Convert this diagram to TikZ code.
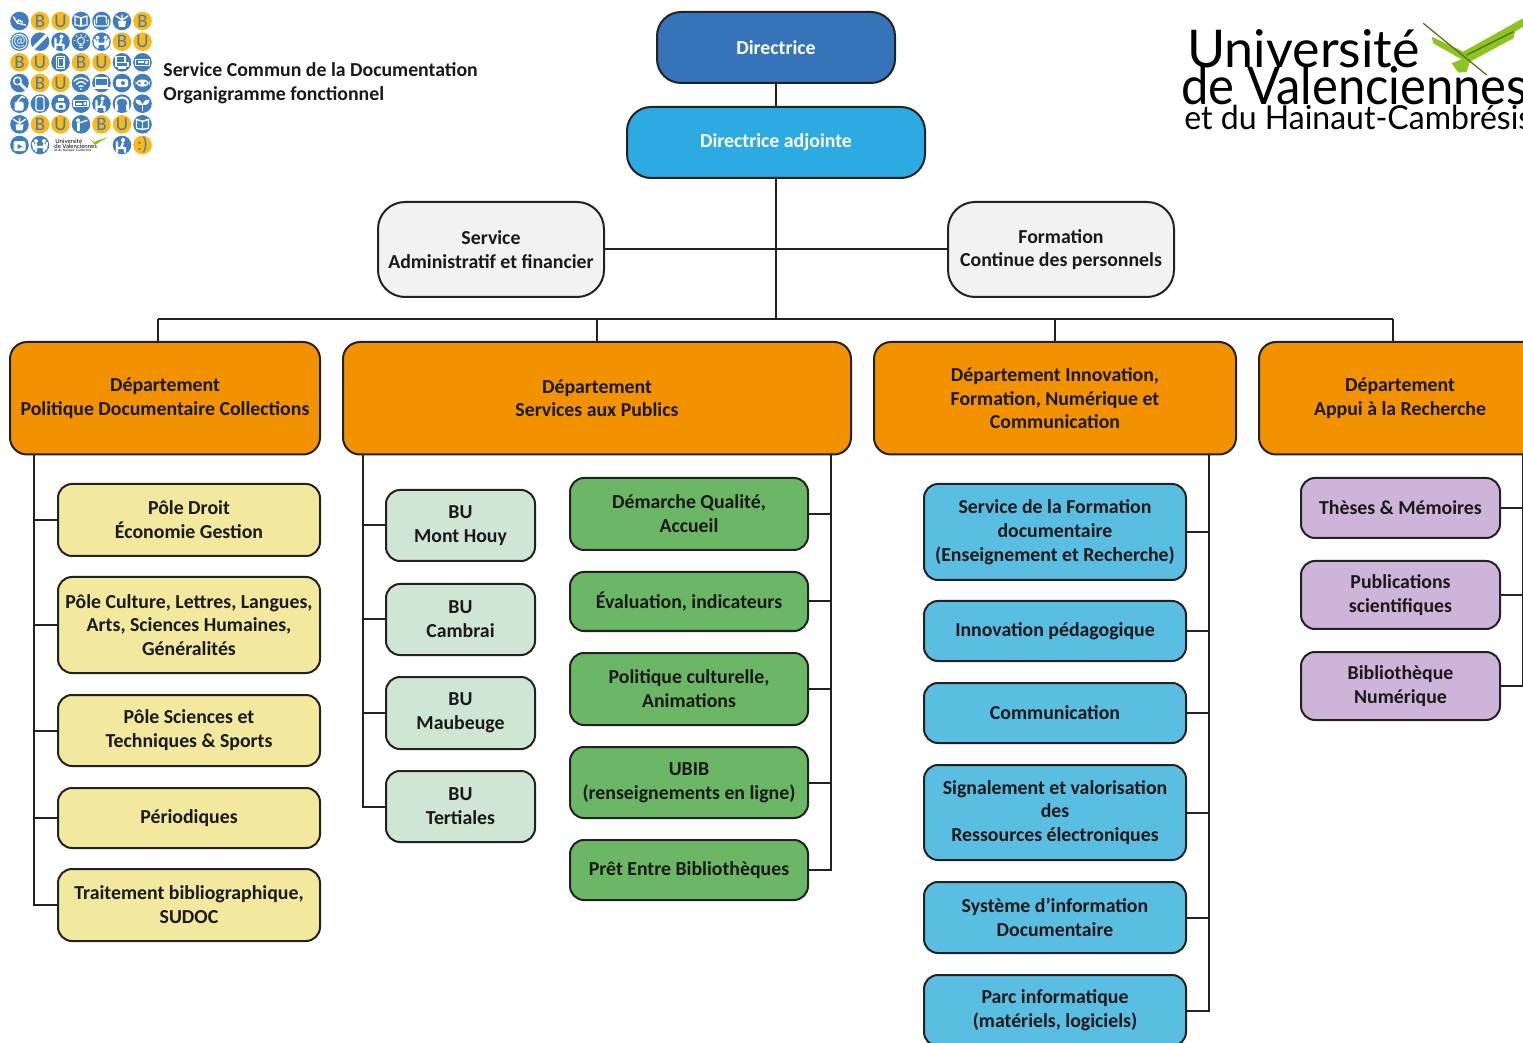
\documentclass[tikz,border=0pt]{standalone}
\usepackage{fontspec}
\setmainfont{Carlito}
\newfontfamily\logofont{Lato}
\newfontfamily\letfont{Carlito}
\usetikzlibrary{calc}
\definecolor{linec}{HTML}{222222}
\definecolor{cdir}{HTML}{3674B9}
\definecolor{cadj}{HTML}{2BABE2}
\definecolor{cgrey}{HTML}{F2F2F2}
\definecolor{cdept}{HTML}{F29200}
\definecolor{cyel}{HTML}{F2E89E}
\definecolor{cbu}{HTML}{D0E6D5}
\definecolor{cgre}{HTML}{6CB766}
\definecolor{cblu}{HTML}{5ABEE2}
\definecolor{cpur}{HTML}{CDB4D8}
\definecolor{lgb}{HTML}{3F7CC0}
\definecolor{lgo}{HTML}{FDB813}
\definecolor{chk}{HTML}{8DC21F}
\definecolor{chkd}{HTML}{4E6B14}
\tikzset{
 bxbase/.style={draw=linec,line width=1pt,rounded corners=7pt,align=center,inner sep=0pt,text=black!90,font=\bfseries\fontsize{9.9}{11.9}\selectfont},
 topbox/.style={bxbase,rounded corners=12pt,text=white},
 greybox/.style={bxbase,rounded corners=13.5pt,fill=cgrey},
 deptbox/.style={bxbase,rounded corners=8.5pt,fill=cdept},
 yelbox/.style={bxbase,fill=cyel},
 bubox/.style={bxbase,fill=cbu},
 grebox/.style={bxbase,fill=cgre},
 blubox/.style={bxbase,fill=cblu},
 purbox/.style={bxbase,fill=cpur},
 conn/.style={draw=linec,line width=1pt},
 ic/.style={white,line width=0.7pt,line cap=round,line join=round},
 lett/.style={inner sep=0pt,text=lgb,font=\letfont\fontsize{9.5}{10}\selectfont},
 logotxt/.style={inner sep=0pt,anchor=base west,text=black,font=\logofont},
}
\newcommand\bx[7]{%
 \pgfmathsetmacro\wbx{(#4-#2)*0.5}\pgfmathsetmacro\hbx{(#5-#3)*0.5}%
 \node[#6,minimum width=\wbx pt,minimum height=\hbx pt] (#1) at ({(#2+#4)/2},{(#3+#5)/2}) {#7};}
% icons
\newcommand\icchair{\draw[ic] (-6,-4) -- (-2,2) -- (6,4); \draw[ic] (-2,2) -- (-1,-1) -- (3,1);}
\newcommand\icbook{\draw[ic] (0,-3) -- (-6,-5) -- (-6,4) -- (0,5) -- (6,4) -- (6,-5) -- cycle; \draw[ic] (0,-3) -- (0,5);}
\newcommand\icsofa{\draw[ic,rounded corners=1pt] (-5,2) -- (-5,-5) -- (5,-5) -- (5,2); \draw[ic,rounded corners=1pt] (-7,-1) -- (-7,5) -- (7,5) -- (7,-1);}
\newcommand\icplant{\fill[white] (-4,0) -- (4,0) -- (3,6) -- (-3,6) -- cycle; \draw[ic] (0,0) -- (0,-6) (0,-1) -- (-6,-5) (0,-1) -- (6,-5);}
\newcommand\icat{\node[inner sep=0pt,text=white,font=\letfont\fontsize{7.5}{8}\selectfont] (at\c-\r) at (0,0) {@}; \draw[ic,line width=0.5pt] (0,0) circle [radius=7.5];}
\newcommand\icpen{\draw[white,line width=1.6pt,line cap=round] (-6,6) -- (6,-6);}
\newcommand\icread{\fill[white] (1,-5) circle [radius=2]; \draw[ic,line width=1.1pt] (1,-2) -- (-1,3) -- (3,3) -- (3,7) (-5,-3) -- (-5,7) (-5,3) -- (-1,3);}
\newcommand\icbulb{\draw[ic,line width=0.5pt] (0,-1) circle [radius=3.5]; \draw[ic,line width=0.5pt] (-1.5,4) -- (1.5,4) (-1.5,6) -- (1.5,6) (-6,-1) -- (-7,-1) (6,-1) -- (7,-1) (0,-6) -- (0,-7) (-4,-5) -- (-5,-6) (4,-5) -- (5,-6);}
\newcommand\icpeople{\fill[white] (-4,-4) circle [radius=2] (4,-4) circle [radius=2]; \draw[ic,line width=1.1pt] (-7,-2) -- (-6,4) (7,-2) -- (6,4) (-4,-1) -- (-4,6) (4,-1) -- (4,6) (-3,2) -- (3,2);}
\newcommand\ictablet{\draw[ic] (-4,-6) rectangle (4,6); \draw[ic,line width=0.5pt] (-2.5,-4) rectangle (2.5,4);}
\newcommand\icprint{\draw[ic] (-6,-6) rectangle (3,0) (-6,0) rectangle (6,4); \fill[white] (-4,4) rectangle (4,7);}
\newcommand\icproj{\draw[ic] (-7,-3) rectangle (7,3); \fill[white] (-5,-1) rectangle (1,1); \draw[ic] (4,0) circle [radius=1];}
\newcommand\icsearch{\draw[ic] (-2,-2) circle [radius=3.8]; \draw[white,line width=1.5pt,line cap=round] (1,1) -- (6,6);}
\newcommand\icwifi{\draw[ic] (-7,-2) .. controls (-3,-6) and (3,-6) .. (7,-2); \draw[ic] (-4.5,1) .. controls (-2,-2) and (2,-2) .. (4.5,1); \draw[ic] (-2,3.5) .. controls (-1,2.5) and (1,2.5) .. (2,3.5); \fill[white] (0,6) circle [radius=1];}
\newcommand\iclap{\draw[ic] (-6,-5) rectangle (6,3); \draw[ic] (-8,5) -- (8,5);}
\newcommand\iccam{\fill[white,rounded corners=1pt] (-6,-4) rectangle (6,4); \fill[lgb] (1,0) circle [radius=2];}
\newcommand\icgame{\fill[white,rounded corners=3pt] (-7,-3.5) rectangle (7,3.5); \fill[lgb] (-3,0) circle [radius=1.5] (3,0) circle [radius=1.5];}
\newcommand\iccup{\fill[white,rounded corners=1pt] (-5,-2) rectangle (4,7); \draw[ic] (-2,-2) -- (2,-7) -- (5,-6);}
\newcommand\icphone{\draw[ic,rounded corners=1pt] (-4,-7) rectangle (4,7);}
\newcommand\icbag{\fill[white,rounded corners=1pt] (-5,-1) rectangle (5,6); \fill[white] (-3,-6) rectangle (3,-3); \fill[lgb] (-2,1) rectangle (2,4);}
\newcommand\ichead{\draw[white,line width=1pt] (-6,3) -- (-6,-1) .. controls (-6,-8) and (6,-8) .. (6,-1) -- (6,3); \fill[white] (-7,1) rectangle (-4,7) (4,1) rectangle (7,7);}
\newcommand\icleaf{\fill[white] (0,1) .. controls (-2,-5) and (-5,-4) .. (-7,-4) .. controls (-7,0) and (-4,2) .. (0,1); \fill[white] (0,1) .. controls (2,-5) and (5,-4) .. (7,-4) .. controls (7,0) and (4,2) .. (0,1); \draw[ic] (0,1) -- (0,7);}
\newcommand\icman{\fill[white] (-3,-4) circle [radius=2]; \draw[white,line width=1.5pt] (-3,-1) -- (-3,7); \draw[ic] (-3,-1) -- (6,-4);}
\newcommand\icvideo{\fill[white,rounded corners=1pt] (-6,-4) rectangle (6,6); \fill[lgb] (-2,-1) -- (3,1.5) -- (-2,4) -- cycle;}
\begin{document}
\begin{tikzpicture}[x=0.5pt,y=-0.5pt]
\useasboundingbox (0,0) rectangle (1523,1043);
\begin{scope}
\clip (0,0) rectangle (1523,1043);
\bx{dir}{657}{12}{895}{83}{topbox,fill=cdir}{Directrice}
\bx{adj}{627}{107}{925}{178}{topbox,fill=cadj}{Directrice adjointe}
\bx{serv}{378}{202}{604}{297}{greybox}{Service\\Administratif et financier}
\bx{form}{948}{202}{1174}{297}{greybox}{Formation\\Continue des personnels}
\bx{d1}{10}{342}{320}{454.5}{deptbox}{Département\\Politique Documentaire Collections}
\bx{d2}{343}{342}{851}{454.5}{deptbox}{Département\\Services aux Publics}
\bx{d3}{874}{342}{1236}{454.5}{deptbox}{Département Innovation,\\Formation, Numérique et\\Communication}
\bx{d4}{1259}{342}{1541}{454.5}{deptbox}{Département\\Appui à la Recherche}
\bx{p1}{58}{484}{320}{556}{yelbox}{Pôle Droit\\Économie Gestion}
\bx{p2}{58}{577}{320}{673}{yelbox}{Pôle Culture, Lettres, Langues,\\Arts, Sciences Humaines,\\Généralités}
\bx{p3}{58}{695}{320}{766}{yelbox}{Pôle Sciences et\\Techniques \& Sports}
\bx{p4}{58}{788}{320}{848}{yelbox}{Périodiques}
\bx{p5}{58}{869}{320}{941}{yelbox}{Traitement bibliographique,\\SUDOC}
\bx{b1}{386}{490}{535}{561}{bubox}{BU\\Mont Houy}
\bx{b2}{386}{584}{535}{655}{bubox}{BU\\Cambrai}
\bx{b3}{386}{677}{535}{749}{bubox}{BU\\Maubeuge}
\bx{b4}{386}{771}{535}{842}{bubox}{BU\\Tertiales}
\bx{g1}{570}{478}{808}{550}{grebox}{Démarche Qualité,\\Accueil}
\bx{g2}{570}{572}{808}{631}{grebox}{Évaluation, indicateurs}
\bx{g3}{570}{653}{808}{725}{grebox}{Politique culturelle,\\Animations}
\bx{g4}{570}{747}{808}{818}{grebox}{UBIB\\(renseignements en ligne)}
\bx{g5}{570}{840}{808}{900}{grebox}{Prêt Entre Bibliothèques}
\bx{c1}{924}{484}{1186}{580}{blubox}{Service de la Formation\\documentaire\\(Enseignement et Recherche)}
\bx{c2}{924}{601}{1186}{661}{blubox}{Innovation pédagogique}
\bx{c3}{924}{683}{1186}{743}{blubox}{Communication}
\bx{c4}{924}{765}{1186}{860}{blubox}{Signalement et valorisation\\des\\Ressources électroniques}
\bx{c5}{924}{882}{1186}{953}{blubox}{Système d’information\\Documentaire}
\bx{c6}{924}{975}{1186}{1046}{blubox}{Parc informatique\\(matériels, logiciels)}
\bx{r1}{1301}{478}{1500}{538}{purbox}{Thèses \& Mémoires}
\bx{r2}{1301}{561}{1500}{629}{purbox}{Publications\\scientifiques}
\bx{r3}{1301}{652}{1500}{720}{purbox}{Bibliothèque\\Numérique}
% connectors
\coordinate (bus) at (776,319);
\coordinate (drop1) at (158,319);
\coordinate (drop2) at (597,319);
\coordinate (drop3) at (1055,319);
\coordinate (drop4) at (1393,319);
\coordinate (t1) at (33.5,454.5);
\coordinate (t2) at (362.5,454.5);
\coordinate (t3) at (831,454.5);
\coordinate (t4) at (1209,454.5);
\coordinate (t5) at (1522.5,454.5);
\draw[conn] (dir.south) -- (adj.north);
\draw[conn] (adj.south) -- (bus);
\draw[conn] (serv.east) -- (form.west);
\draw[conn] (drop1) -- (drop4);
\draw[conn] (drop1) -- (drop1 |- d1.north);
\draw[conn] (drop2) -- (d2.north);
\draw[conn] (drop3) -- (drop3 |- d3.north);
\draw[conn] (drop4) -- (drop4 |- d4.north);
\draw[conn] (t1) |- (p5.west);
\foreach \n in {p1,p2,p3,p4} \draw[conn] (t1 |- \n.west) -- (\n.west);
\draw[conn] (t2) |- (b4.west);
\foreach \n in {b1,b2,b3} \draw[conn] (t2 |- \n.west) -- (\n.west);
\draw[conn] (t3) |- (g5.east);
\foreach \n in {g1,g2,g3,g4} \draw[conn] (t3 |- \n.east) -- (\n.east);
\draw[conn] (t4) |- (c6.east);
\foreach \n in {c1,c2,c3,c4,c5} \draw[conn] (t4 |- \n.east) -- (\n.east);
\draw[conn] (t5) |- (r3.east);
\foreach \n in {r1,r2} \draw[conn] (t5 |- \n.east) -- (\n.east);
% heading
\node[inner sep=0pt,anchor=west,align=left,font=\bfseries\fontsize{9.9}{11.9}\selectfont,text=black!90] (head) at (163,83) {Service Commun de la Documentation\\Organigramme fonctionnel};
% small logo
\foreach \c/\r/\k in {0/0/chair,3/0/book,4/0/sofa,5/0/plant,0/1/at,1/1/pen,2/1/read,3/1/bulb,4/1/people,2/2/tablet,5/2/print,6/2/proj,0/3/search,3/3/wifi,4/3/lap,5/3/cam,6/3/game,0/4/cup,1/4/phone,2/4/bag,3/4/proj,4/4/read,5/4/head,6/4/leaf,0/5/plant,3/5/man,6/5/book,0/6/video,1/6/people,5/6/read}{
 \begin{scope}[shift={({19.5+20.5*\c},{21+20.67*\r})}]
  \fill[lgb] (0,0) circle [radius=9.3];
  \csname ic\k\endcsname
 \end{scope}}
\foreach \c/\r/\t in {1/0/B,2/0/U,6/0/B,5/1/B,6/1/U,0/2/B,1/2/U,3/2/B,4/2/U,1/3/B,2/3/U,1/5/B,2/5/U,4/5/B,5/5/U,6/6/:)}{
 \fill[lgo] ({19.5+20.5*\c},{21+20.67*\r}) circle [radius=9.3];
 \node[lett] (l\c-\r) at ({19.5+20.5*\c},{21+20.67*\r}) {\t};}
\node[inner sep=0pt,anchor=base west,text=black,font=\logofont\fontsize{3}{3}\selectfont] (mini1) at (55,144) {Université};
\node[inner sep=0pt,anchor=base west,text=black,font=\logofont\fontsize{3}{3}\selectfont] (mini2) at (54,149) {de Valenciennes};
\node[inner sep=0pt,anchor=base west,text=black,font=\logofont\fontsize{1.7}{2}\selectfont] (mini3) at (54,152) {et du Hainaut-Cambrésis};
\fill[chk] (89,138) -- (94,142) -- (108,137) -- (95,145) -- cycle;
% big logo
\node[logotxt,font=\logofont\fontsize{26}{27}\selectfont] (u1) at (1187,68) {Université};
\node[logotxt,font=\logofont\fontsize{26}{27}\selectfont] (u2) at (1181,105) {\scalebox{0.94}[1]{de Valenciennes}};
\node[logotxt,font=\logofont\fontsize{16.5}{17}\selectfont] (u3) at (1184,130) {\scalebox{0.97}[1]{et du Hainaut-Cambrésis}};
\begin{scope}[shift={(1170,0)},scale=1/3]
 \fill[chk] (785,110) -- (880,155) -- (1059,55) -- (1059,80) -- (1035,95) -- (1030,115) -- (900,185) -- (890,215) -- (865,218) -- (845,190) -- (875,178) -- (790,130) -- cycle;
 \draw[chkd,line width=0.6pt] (760,70) -- (950,225);
 \draw[chkd,line width=0.6pt] (890,165) -- (1030,95);
\end{scope}
\end{scope}
\end{tikzpicture}
\end{document}
